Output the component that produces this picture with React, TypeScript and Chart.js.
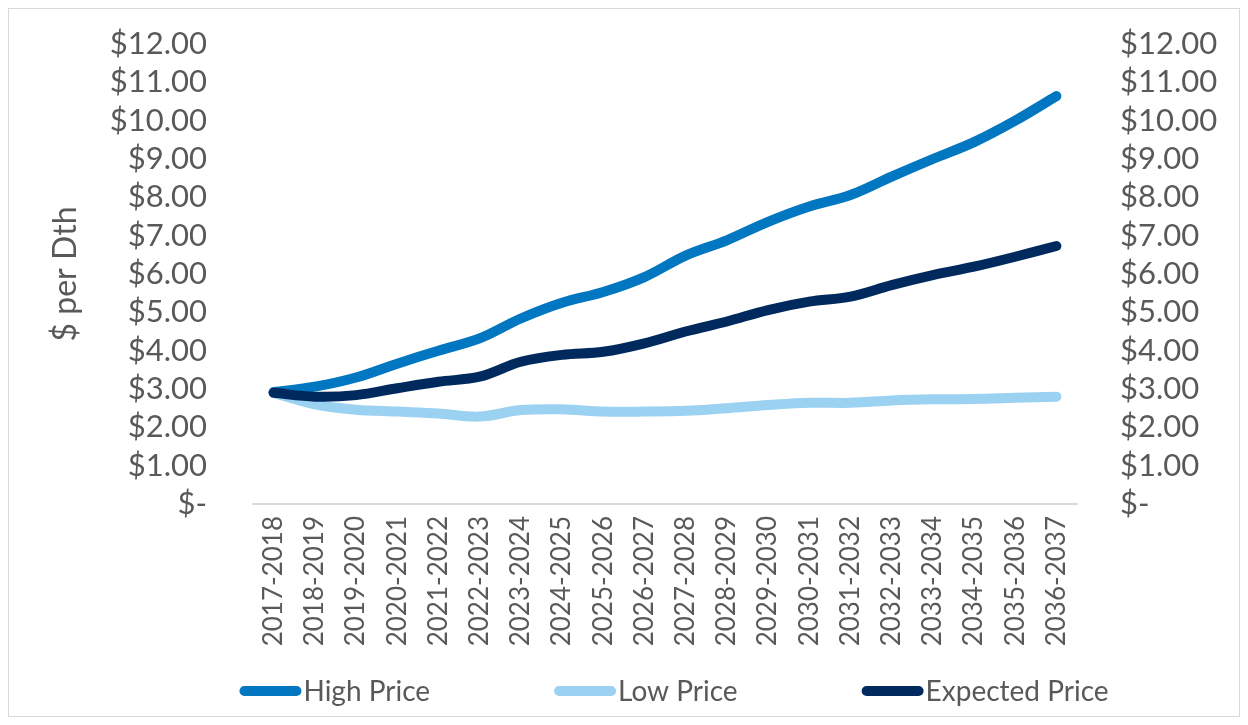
import { useEffect, useRef } from "react";
import { Chart, registerables } from "chart.js";

Chart.register(...registerables);

const CATEGORIES = [
  "2017-2018", "2018-2019", "2019-2020", "2020-2021", "2021-2022",
  "2022-2023", "2023-2024", "2024-2025", "2025-2026", "2026-2027",
  "2027-2028", "2028-2029", "2029-2030", "2030-2031", "2031-2032",
  "2032-2033", "2033-2034", "2034-2035", "2035-2036", "2036-2037",
];

const HIGH_PRICE = [
  2.92, 3.06, 3.3, 3.66, 4.0, 4.32, 4.84, 5.25, 5.53, 5.92,
  6.48, 6.88, 7.36, 7.76, 8.06, 8.54, 9.0, 9.44, 10.0, 10.64,
];

const LOW_PRICE = [
  2.9, 2.6, 2.46, 2.41, 2.36, 2.28, 2.45, 2.47, 2.41, 2.41,
  2.43, 2.5, 2.58, 2.64, 2.64, 2.7, 2.73, 2.74, 2.77, 2.8,
];

const EXPECTED_PRICE = [
  2.9, 2.8, 2.84, 3.02, 3.19, 3.32, 3.71, 3.89, 3.97, 4.19,
  4.5, 4.76, 5.06, 5.28, 5.41, 5.71, 5.97, 6.19, 6.45, 6.73,
];

const SERIES_NAMES = ["High Price", "Low Price", "Expected Price"];
const SERIES_COLORS = ["#0077C0", "#9BD1F1", "#002A5E"];

const Y_MIN = 0;
const Y_MAX = 12;
const Y_STEP = 1;
const Y_TITLE = "$ per Dth";

const TEXT_COLOR = "#595959";
const FONT = "Lato, 'Open Sans', sans-serif";

const fmtTick = (v: number | string) => {
  const n = Number(v);
  return n === 0 ? "$-" : "$" + n.toFixed(2);
};

const legendPlugin = {
  id: "customLegend",
  afterDraw(chart: any) {
    const ctx = chart.ctx as CanvasRenderingContext2D;
    ctx.save();
    ctx.font = `28px ${FONT}`;
    const boxW = 62;
    const boxH = 10;
    const gapText = 2;
    const gapItem = 124;
    const items = chart.data.datasets.map((ds: any) => ({
      text: ds.label as string,
      color: ds.borderColor as string,
      w: boxW + gapText + ctx.measureText(ds.label).width,
    }));
    const total =
      items.reduce((s: number, it: any) => s + it.w, 0) + gapItem * (items.length - 1);
    const center = (chart.chartArea.left + chart.chartArea.right) / 2 + 9;
    let x = center - total / 2;
    const y = chart.height - 25;
    for (const it of items) {
      ctx.fillStyle = it.color;
      ctx.beginPath();
      (ctx as any).roundRect(x, y - boxH / 2, boxW, boxH, boxH / 2);
      ctx.fill();
      ctx.fillStyle = TEXT_COLOR;
      ctx.textBaseline = "middle";
      ctx.textAlign = "left";
      ctx.fillText(it.text, x + boxW + gapText, y + 1);
      x += it.w + gapItem;
    }
    ctx.restore();
  },
};

const fitVertical = (width: number) => (scale: any) => {
  scale.width = width;
  scale.paddingTop = 0;
  scale.paddingBottom = 0;
};

export default function App() {
  const canvasRef = useRef<HTMLCanvasElement | null>(null);

  useEffect(() => {
    if (!canvasRef.current) return;
    const seriesData = [HIGH_PRICE, LOW_PRICE, EXPECTED_PRICE];
    const orders = [3, 2, 1];
    const chart = new Chart(canvasRef.current, {
      type: "line",
      data: {
        labels: CATEGORIES,
        datasets: seriesData.map((d, i) => ({
          label: SERIES_NAMES[i],
          data: d,
          borderColor: SERIES_COLORS[i],
          backgroundColor: SERIES_COLORS[i],
          borderWidth: 10,
          borderCapStyle: "round" as const,
          borderJoinStyle: "round" as const,
          pointRadius: 0,
          tension: 0.35,
          fill: false,
          order: orders[i],
          yAxisID: "y",
        })),
      },
      options: {
        animation: false,
        responsive: true,
        maintainAspectRatio: false,
        layout: { padding: { top: 35, bottom: 0, left: 0, right: 0 } },
        plugins: {
          legend: { display: false },
          tooltip: { enabled: false },
        },
        scales: {
          x: {
            type: "category",
            offset: true,
            grid: { display: false, drawTicks: false },
            border: { display: true, color: "#D9D9D9", width: 2 },
            ticks: {
              color: TEXT_COLOR,
              font: { family: FONT, size: 26 },
              minRotation: 90,
              maxRotation: 90,
              padding: 12,
              autoSkip: false,
            },
            afterFit: (scale: any) => {
              scale.height = 212;
            },
          },
          y: {
            position: "left",
            min: Y_MIN,
            max: Y_MAX,
            grid: { display: false, drawTicks: false },
            border: { display: false },
            title: {
              display: true,
              text: Y_TITLE,
              color: TEXT_COLOR,
              font: { family: FONT, size: 32 },
              padding: { top: 37, bottom: 0 },
            },
            ticks: {
              stepSize: Y_STEP,
              autoSkip: false,
              color: TEXT_COLOR,
              font: { family: FONT, size: 31 },
              padding: 46,
              callback: (v: any) => fmtTick(v),
            },
            afterFit: fitVertical(244),
          },
          y2: {
            position: "right",
            min: Y_MIN,
            max: Y_MAX,
            grid: { display: false, drawTicks: false },
            border: { display: false },
            ticks: {
              stepSize: Y_STEP,
              autoSkip: false,
              color: TEXT_COLOR,
              font: { family: FONT, size: 31 },
              padding: 43,
              callback: (v: any) => fmtTick(v),
            },
            afterFit: fitVertical(162),
          },
        },
      },
      plugins: [legendPlugin],
    });
    return () => chart.destroy();
  }, []);

  return (
    <div
      style={{
        width: 1230,
        height: 707,
        border: "1px solid #D9D9D9",
        position: "relative",
        background: "#fff",
      }}
    >
      <canvas ref={canvasRef} />
    </div>
  );
}
